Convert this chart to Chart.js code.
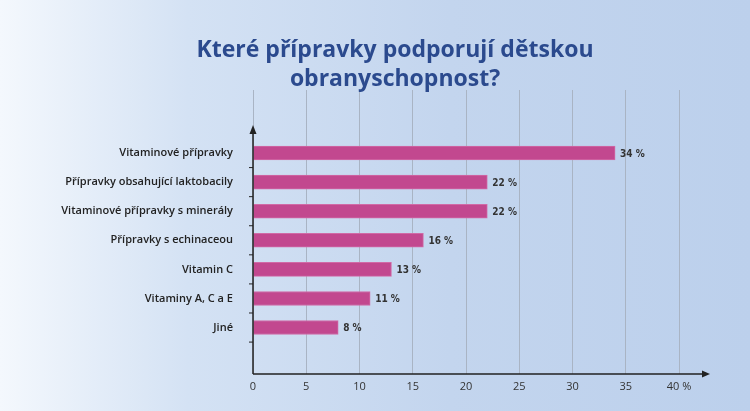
<!DOCTYPE html><html><head><meta charset="utf-8">
<script src="https://cdn.jsdelivr.net/npm/chart.js@4"></script>
<style>html,body{margin:0;padding:0}body{width:750px;height:411px;background:linear-gradient(90deg,#f4f8fd 0%,#d4e2f4 25%,#c3d5ee 60%,#bcd0ec 100%)}</style>
</head><body><canvas id="c" width="750" height="411"></canvas>
<script>
const categories=["Vitaminové přípravky","Přípravky obsahující laktobacily","Vitaminové přípravky s minerály","Přípravky s echinaceou","Vitamin C","Vitaminy A, C a E","Jiné"];
const values=[34,22,22,16,13,11,8];
const xTicks=[0,5,10,15,20,25,30,35,40];
const titleLines=["Které přípravky podporují dětskou","obranyschopnost?"];
const deco={id:'deco',
 afterDraw(ch){const c=ch.ctx,a=ch.chartArea;c.save();
  c.fillStyle='#2b4a8e';c.font='bold 23px "Open Sans", sans-serif';c.textAlign='center';c.textBaseline='middle';
  c.fillText(titleLines[0],395,50);c.fillText(titleLines[1],395,79);
  c.strokeStyle='#222';c.fillStyle='#222';c.lineWidth=1.5;
  c.beginPath();c.moveTo(a.left,a.bottom);c.lineTo(705,a.bottom);c.moveTo(a.left,a.bottom);c.lineTo(a.left,128);c.stroke();
  c.beginPath();c.moveTo(710,a.bottom);c.lineTo(702,a.bottom-3.5);c.lineTo(702,a.bottom+3.5);c.fill();
  c.beginPath();c.moveTo(a.left,125);c.lineTo(a.left-3.5,134);c.lineTo(a.left+3.5,134);c.fill();
  const y=ch.scales.y;c.lineWidth=1;c.beginPath();
  for(let i=0;i<categories.length;i++){const p=y.getPixelForValue(i+0.5);c.moveTo(a.left-4,p);c.lineTo(a.left,p);}c.stroke();
  c.font='bold 10px "DejaVu Sans Condensed", sans-serif';c.fillStyle='#333';c.textAlign='left';
  const x=ch.scales.x;values.forEach((v,i)=>{c.fillText(v+' %',x.getPixelForValue(v)+5,y.getPixelForValue(i)+1);});
  c.restore();}};
new Chart(document.getElementById('c'),{type:'bar',
 data:{datasets:[{data:values.map((v,i)=>({x:v,y:i})),backgroundColor:'#c2488f',borderColor:'#d16aa6',borderWidth:1,barThickness:14}]},
 options:{indexAxis:'y',responsive:false,animation:false,
  layout:{padding:{top:90,right:71,bottom:12,left:0}},
  plugins:{legend:{display:false},tooltip:{enabled:false}},
  scales:{
   x:{type:'linear',min:0,max:40,afterBuildTicks(s){s.ticks=xTicks.map(v=>({value:v}));},
      afterFit(s){s.height=25;},
      grid:{color:'#a9b4c4',lineWidth:1,drawTicks:false},border:{display:false},
      ticks:{padding:6,color:'#333',font:{size:11,family:'"Open Sans", sans-serif'},callback:v=>v===40?'40 %':v}},
   y:{type:'linear',reverse:true,min:-1.47,max:6.9,
      afterBuildTicks(s){s.ticks=categories.map((_,i)=>({value:i}));},
      afterFit(s){s.width=253;},
      grid:{display:false},border:{display:false},
      ticks:{padding:12,color:'#222',font:{size:11,weight:'600',family:'"Open Sans", sans-serif'},callback:v=>categories[v]}}}},
 plugins:[deco]});
</script></body></html>
